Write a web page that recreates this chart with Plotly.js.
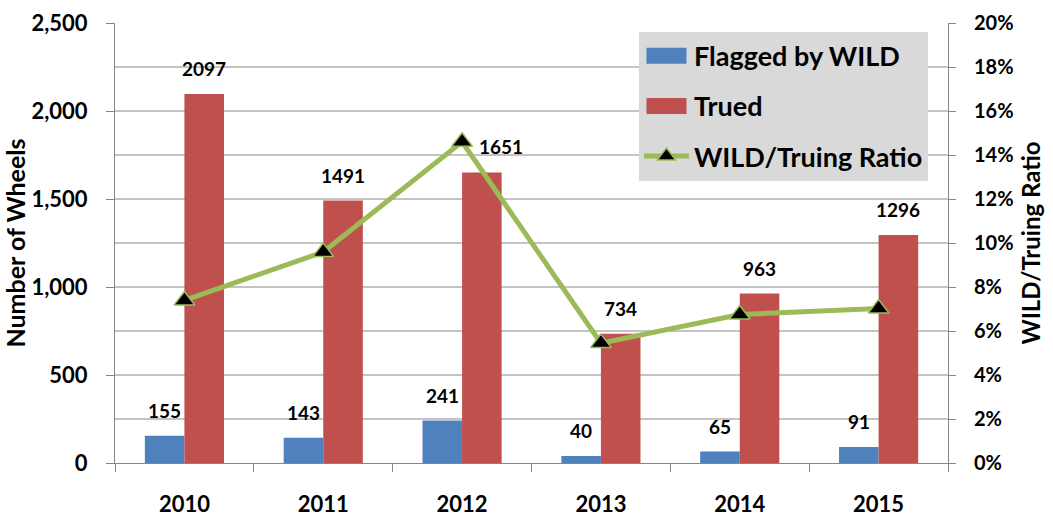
<!DOCTYPE html>
<html>
<head>
<meta charset="utf-8">
<script src="https://cdn.plot.ly/plotly-3.0.1.min.js"></script>
<style>
  html, body { margin: 0; padding: 0; background: #fff; }
  #chart { width: 1053px; height: 516px; }
</style>
</head>
<body>
<div id="chart"></div>
<script>
// Wheel truing program, 2010-2015
const years = ['2010', '2011', '2012', '2013', '2014', '2015'];
const flaggedByWild = [155, 143, 241, 40, 65, 91];
const trued = [2097, 1491, 1651, 734, 963, 1296];
const wildTruingRatio = [0.0739, 0.0959, 0.146, 0.0545, 0.0675, 0.0702];

const leftTicks = [0, 500, 1000, 1500, 2000, 2500];
const leftTickText = ['0', '500', '1,000', '1,500', '2,000', '2,500'];

const BLUE = '#4F81BD';
const RED = '#C0504D';
const GREEN = '#9BBB59';
const AXIS = '#868686';
const GRID = '#C4C4C4';
const FONT = 'Lato, "Open Sans", sans-serif';

const traces = [
  {
    type: 'bar', name: 'Flagged by WILD', x: years, y: flaggedByWild,
    marker: { color: BLUE }, legendgroup: 'a', hoverinfo: 'x+y'
  },
  {
    type: 'bar', name: 'Trued', x: years, y: trued,
    marker: { color: RED }, legendgroup: 'b', hoverinfo: 'x+y'
  },
  {
    type: 'scatter', mode: 'lines+markers', name: 'WILD/Truing Ratio',
    x: years, y: wildTruingRatio, yaxis: 'y2', legendgroup: 'c',
    line: { color: GREEN, width: 5 },
    marker: { symbol: 'triangle-up', size: 18, color: '#000', line: { color: GREEN, width: 1.5 } }
  }
];

// value labels above each bar (half a bar width left/right of the category centre);
// x is the category index on the category axis
const halfBar = 19.8;
const labelFont = { family: FONT, size: 19, color: '#000', weight: 'bold' };
const annotations = [];
flaggedByWild.forEach((v, i) => annotations.push({
  x: i, y: v, xref: 'x', yref: 'y', text: String(v), showarrow: false,
  xshift: -halfBar, yshift: 12, yanchor: 'bottom', font: labelFont
}));
trued.forEach((v, i) => annotations.push({
  x: i, y: v, xref: 'x', yref: 'y', text: String(v), showarrow: false,
  // the 2012 label sits beside the ratio marker
  xshift: halfBar + (years[i] === '2012' ? 19 : 0), yshift: 12, yanchor: 'bottom', font: labelFont
}));

const layout = {
  width: 1053, height: 516,
  margin: { l: 115, r: 105, t: 23, b: 53 },
  paper_bgcolor: '#fff', plot_bgcolor: '#fff',
  font: { family: FONT, color: '#000', weight: 'bold' },
  barmode: 'group', bargap: 0.43, bargroupgap: 0,
  showlegend: true,
  legend: {
    x: 0.629, y: 0.98, xanchor: 'left', yanchor: 'top',
    bgcolor: '#D9D9D9', borderwidth: 0,
    traceorder: 'grouped', tracegroupgap: 12,
    itemwidth: 45,
    font: { family: FONT, size: 27, color: '#000', weight: 'bold' }
  },
  xaxis: {
    type: 'category', range: [-0.5, 5.5], showgrid: false, zeroline: false,
    showline: true, linecolor: AXIS, linewidth: 1,
    ticks: 'outside', tickson: 'boundaries', ticklen: 8, tickcolor: AXIS,
    ticklabelstandoff: 22,
    tickfont: { family: FONT, size: 22, color: '#000', weight: 'bold' }
  },
  yaxis: {
    range: [0, 2500], showgrid: false, zeroline: false,
    showline: true, linecolor: AXIS, linewidth: 1,
    tickmode: 'array', tickvals: leftTicks, ticktext: leftTickText,
    ticks: 'outside', ticklen: 8, tickcolor: AXIS, ticklabelstandoff: 14,
    tickfont: { family: FONT, size: 22, color: '#000', weight: 'bold' },
    title: { text: 'Number of Wheels', standoff: 12,
             font: { family: FONT, size: 25, color: '#000', weight: 'bold' } }
  },
  yaxis2: {
    overlaying: 'y', side: 'right', range: [0, 0.2], dtick: 0.02,
    tickformat: '.0%', showgrid: true, gridcolor: GRID, gridwidth: 1.3,
    zeroline: false, showline: true, linecolor: AXIS, linewidth: 1,
    ticks: 'outside', ticklen: 7, tickcolor: AXIS, ticklabelstandoff: 14,
    tickfont: { family: FONT, size: 20, color: '#000', weight: 'bold' },
    title: { text: 'WILD/Truing Ratio', standoff: 10,
             font: { family: FONT, size: 24, color: '#000', weight: 'bold' } }
  },
  annotations: annotations
};

Plotly.newPlot('chart', traces, layout, { staticPlot: true, displayModeBar: false }).then(() => {
  // widen the bar swatches in the legend to flat rectangles
  document.querySelectorAll('#chart .legend .traces').forEach((g, i) => {
    if (i < 2) {
      g.querySelectorAll('.legendpoints path').forEach(p => p.setAttribute('d', 'M20,8H-20V-8H20Z'));
    }
  });
});
</script>
</body>
</html>
